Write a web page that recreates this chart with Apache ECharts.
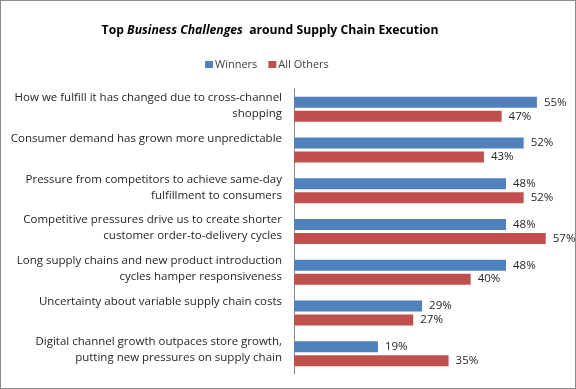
<!DOCTYPE html>
<html><head><meta charset="utf-8">
<script src="https://cdn.jsdelivr.net/npm/echarts@6/dist/echarts.min.js"></script>
<style>html,body{margin:0;padding:0;background:#fff}#c{width:576px;height:389px;box-sizing:border-box;border:1px solid #8c8c8c;}</style>
</head><body><div id="c"></div>
<script>
const categories = [
  "How we fulfill it has changed due to cross-channel\nshopping",
  "Consumer demand has grown more unpredictable\n ",
  "Pressure from competitors to achieve same-day\nfulfillment to consumers",
  "Competitive pressures drive us to create shorter\ncustomer order-to-delivery cycles",
  "Long supply chains and new product introduction\ncycles hamper responsiveness",
  "Uncertainty about variable supply chain costs\n ",
  "Digital channel growth outpaces store growth,\nputting new pressures on supply chain"
];
const winners = [55, 52, 48, 48, 48, 29, 19];
const allOthers = [47, 43, 52, 57, 40, 27, 35];
const seriesNames = ["Winners", "All Others"];

const font = "Open Sans";
const chart = echarts.init(document.getElementById('c'), null, {renderer: 'canvas'});
chart.setOption({
  animation: false,
  title: {
    text: '{b|Top }{i|Business Challenges }{b| around Supply Chain Execution}',
    left: 264, textAlign: 'center', top: 19,
    textStyle: {
      rich: {
        b: {fontFamily: font, fontWeight: 'bold', fontSize: 12.2, color: '#000'},
        i: {fontFamily: font, fontWeight: 'bold', fontStyle: 'italic', fontSize: 12.2, color: '#000'}
      }
    }
  },
  legend: {
    data: seriesNames, top: 53, left: 199,
    itemWidth: 8, itemHeight: 7, itemGap: 11, icon: 'rect',
    textStyle: {fontFamily: font, fontSize: 11, color: '#404040', padding: [0,0,0,-3]}
  },
  grid: {left: 293, right: 16, top: 88, bottom: 14, containLabel: false},
  xAxis: {type: 'value', min: 0, max: 60, show: false},
  yAxis: {
    type: 'category', data: categories, inverse: true,
    axisLine: {show: true, lineStyle: {color: '#868686'}},
    axisTick: {show: false},
    axisLabel: {
      fontFamily: font, fontSize: 11.5, color: '#262626', margin: 12, lineHeight: 16, align: 'right',
      formatter: v => v.split('\n').map(s => '{t|' + s + '}').join('\n') + '\n{s| }',
      rich: {
        t: {fontFamily: font, fontSize: 11.5, color: '#262626', lineHeight: 16, align: 'right'},
        s: {fontSize: 1, lineHeight: 7}
      }
    }
  },
  series: [
    {name: seriesNames[0], type: 'bar', data: winners, itemStyle: {color: '#4F81BD'},
     barWidth: 11, barGap: '27%',
     label: {show: true, position: 'right', formatter: '{c}%', fontFamily: font, fontSize: 11.5, color: '#262626', distance: 7}},
    {name: seriesNames[1], type: 'bar', data: allOthers, itemStyle: {color: '#C0504D'},
     barWidth: 11, barGap: '27%',
     label: {show: true, position: 'right', formatter: '{c}%', fontFamily: font, fontSize: 11.5, color: '#262626', distance: 7}}
  ]
});
</script></body></html>
